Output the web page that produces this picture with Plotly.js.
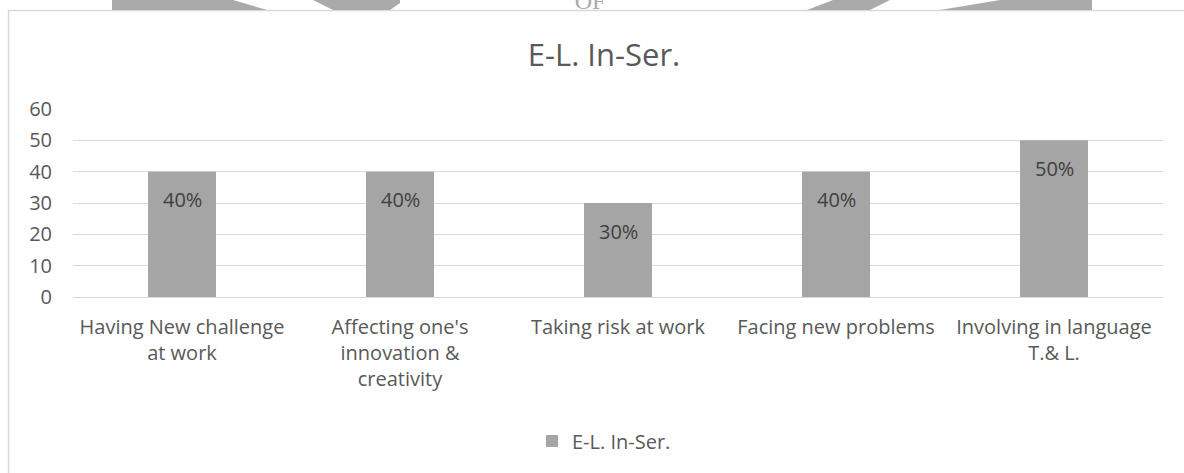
<!DOCTYPE html>
<html>
<head>
<meta charset="utf-8">
<script src="https://cdn.plot.ly/plotly-3.0.1.min.js"></script>
<style>
html,body{margin:0;padding:0;background:#fff;}
#wrap{position:relative;width:1184px;height:473px;overflow:hidden;}
#chart{position:absolute;left:0;top:0;width:1184px;height:473px;}
#wm{position:absolute;left:0;top:0;width:1184px;height:11px;pointer-events:none;}
</style>
</head>
<body>
<div id="wrap">
<div id="chart"></div>
<svg id="wm" width="1184" height="11" viewBox="0 0 1184 11">
  <polygon points="112,0 233,0 267,10 112,10" fill="#aaaaaa"/>
  <polygon points="313,0 400,0 400,3 390,10 333,10" fill="#aaaaaa"/>
  <text x="590" y="9" font-family="Liberation Serif" font-size="24" fill="#aaaaaa" text-anchor="middle">OF</text>
  <polygon points="833,0 890,0 870,10 807,10" fill="#aaaaaa"/>
  <polygon points="1000,0 1092,0 1092,10 940,10" fill="#aaaaaa"/>
</svg>
</div>
<script>
var categories = [
  "Having New challenge<br>at work",
  "Affecting one's<br>innovation &<br>creativity",
  "Taking risk at work",
  "Facing new problems",
  "Involving in language<br>T.& L."
];
var values = [40, 40, 30, 40, 50];
var valueLabels = ["40%", "40%", "30%", "40%", "50%"];
var seriesName = "E-L. In-Ser.";
var yTicks = [0, 10, 20, 30, 40, 50, 60];

var L = 73, R = 21, T = 109, B = 176;
var W = 1184, H = 473;
var pw = W - L - R, ph = H - T - B;
function px(x){ return (x - L) / pw; }
function py(y){ return (H - B - y) / ph; }

var trace = {
  type: 'bar',
  x: categories,
  y: values,
  name: seriesName,
  marker: {color: '#a5a5a5'},
  hoverinfo: 'none'
};

var annotations = categories.map(function(c, i){
  return {
    x: c, y: values[i], xref: 'x', yref: 'y',
    text: valueLabels[i], showarrow: false,
    yanchor: 'middle', yshift: -28,
    font: {family: 'Open Sans', size: 20, color: '#404040'}
  };
});

var layout = {
  width: W, height: H,
  margin: {l: L, r: R, t: T, b: B, pad: 0},
  paper_bgcolor: 'rgba(0,0,0,0)',
  plot_bgcolor: 'rgba(0,0,0,0)',
  font: {family: 'Open Sans', size: 20, color: '#595959'},
  title: {
    text: 'E-L. In-Ser.',
    font: {family: 'Open Sans', size: 31, color: '#595959'},
    xref: 'paper', x: px(604), xanchor: 'center',
    yref: 'container', y: 1 - 55 / H, yanchor: 'middle'
  },
  bargap: 0.688,
  showlegend: true,
  legend: {
    orientation: 'h', x: px(604), xanchor: 'center',
    y: py(441), yanchor: 'middle',
    font: {family: 'Open Sans', size: 20, color: '#595959'},
    itemwidth: 30
  },
  xaxis: {
    type: 'category',
    showgrid: false, zeroline: false,
    showline: false,
    ticks: '', ticklabelstandoff: 16,
    tickfont: {family: 'Open Sans', size: 20, color: '#595959'},
    fixedrange: true
  },
  yaxis: {
    range: [0, 60],
    tickvals: yTicks,
    showgrid: true, gridcolor: '#d9d9d9', gridwidth: 1,
    zeroline: true, zerolinecolor: '#d9d9d9', zerolinewidth: 1,
    showline: false, ticks: '', ticklabelstandoff: 20,
    tickfont: {family: 'Open Sans', size: 20, color: '#595959'},
    fixedrange: true
  },
  annotations: annotations,
  shapes: [{
    type: 'rect', xref: 'paper', yref: 'paper',
    x0: px(8.5), x1: px(1195), y0: py(10.5), y1: py(490),
    line: {color: '#d9d9d9', width: 1.5},
    fillcolor: 'rgba(0,0,0,0)', layer: 'below'
  }]
};

Plotly.newPlot('chart', [trace], layout, {displayModeBar: false, staticPlot: true});
</script>
</body>
</html>
